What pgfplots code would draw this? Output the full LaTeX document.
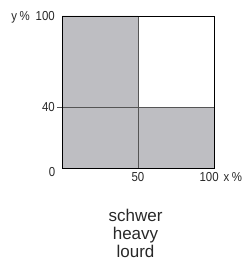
\documentclass[border=0pt]{standalone}
\usepackage{fontspec}
\setmainfont{Liberation Sans}
\newfontfamily\condfont[FakeStretch=0.88]{Liberation Sans}
\usepackage{pgfplots}
\pgfplotsset{compat=1.18}
\definecolor{fillgray}{RGB}{190,190,194}
\definecolor{linegray}{RGB}{85,85,85}
\definecolor{txtgray}{RGB}{40,40,40}
\newcommand{\lbl}{\condfont\fontsize{13bp}{15bp}\selectfont}
\begin{document}
\begin{tikzpicture}[x=1bp,y=1bp]
\useasboundingbox (0,0) rectangle (243,262);
\begin{axis}[at={(62bp,94bp)}, anchor=south west, scale only axis,
  width=152bp, height=152bp, xmin=0, xmax=100, ymin=0, ymax=100,
  axis line style={black, line width=0.9pt}, axis on top,
  xtick=\empty, ytick=\empty, clip=false]
\addplot[fill=fillgray, draw=none] coordinates {(0,100)(50,100)(50,40)(100,40)} \closedcycle;
\addplot[linegray, line width=0.8pt] coordinates {(50,0)(50,100)};
\addplot[linegray, line width=0.8pt] coordinates {(-3.3,40)(100,40)};
\node[anchor=east, inner sep=0pt, text=txtgray, font=\lbl] at (axis cs:-4.6,99.3) {y\hspace{2.5bp}\%\hspace{6bp}100};
\node[anchor=east, inner sep=0pt, text=txtgray, font=\lbl] at (axis cs:-4.6,40) {40};
\node[anchor=center, inner sep=0pt, text=txtgray, font=\lbl] at (axis cs:-6.6,-2.6) {0};
\node[anchor=center, inner sep=0pt, text=txtgray, font=\lbl] at (axis cs:50,-6.25) {50};
\node[anchor=east, inner sep=0pt, text=txtgray, font=\lbl] at (axis cs:118.6,-6.25) {100\hspace{5bp}x\hspace{2.5bp}\%};
\end{axis}
\node[align=center, inner sep=0pt, text=txtgray, font=\fontsize{17bp}{18bp}\selectfont] at (135.5,29) {schwer\\heavy\\lourd};
\end{tikzpicture}
\end{document}
